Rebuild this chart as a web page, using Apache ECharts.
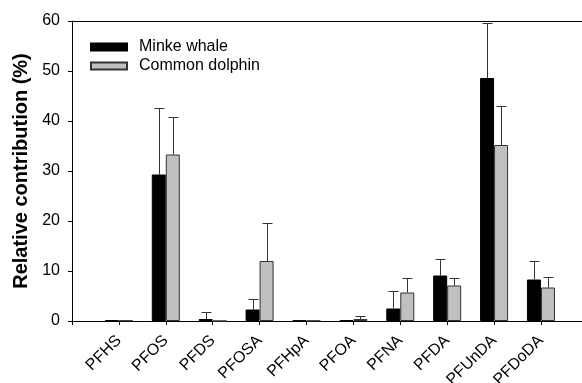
<!DOCTYPE html>
<html>
<head>
<meta charset="utf-8">
<script src="https://cdn.jsdelivr.net/npm/echarts@6/dist/echarts.min.js"></script>
<style>html,body{margin:0;padding:0;background:#fff}#c{width:582px;height:383px}</style>
</head>
<body>
<div id="c"></div>
<script>
const categories = ['PFHS','PFOS','PFDS','PFOSA','PFHpA','PFOA','PFNA','PFDA','PFUnDA','PFDoDA'];
const minkeWhale = [0.2, 29.3, 0.4, 2.3, 0.1, 0.2, 2.5, 9.1, 48.6, 8.3];
const minkeWhaleErr = [0, 13.4, 1.5, 2.2, 0, 0, 3.5, 3.4, 11.0, 3.7];
const commonDolphin = [0.1, 33.3, 0, 12.0, 0.05, 0.4, 5.7, 7.1, 35.2, 6.7];
const commonDolphinErr = [0, 7.5, 0, 7.6, 0, 0.6, 3.0, 1.6, 7.8, 2.2];
const yTicks = [0, 10, 20, 30, 40, 50, 60];

const FONT = "'Liberation Sans', Arial, sans-serif";
const BAR_W = 14;
const slotTicks = [0].concat(categories.map((c, i) => i + 1));
const X_MAX = 10.875;

function errBar(offset) {
  return function (params, api) {
    const x = api.value(0), v = api.value(1), e = api.value(2);
    if (!e) return null;
    const base = api.coord([x, v]);
    const top = api.coord([x, v + e]);
    const cx = Math.round(base[0] + offset) + 0.5;
    const ty = Math.round(top[1]) + 0.5;
    return {
      type: 'group',
      children: [
        { type: 'line', shape: { x1: cx, y1: base[1], x2: cx, y2: ty }, style: { stroke: '#333', lineWidth: 1 } },
        { type: 'line', shape: { x1: cx - 5, y1: ty, x2: cx + 5, y2: ty }, style: { stroke: '#333', lineWidth: 1 } }
      ]
    };
  };
}

const chart = echarts.init(document.getElementById('c'), null, { renderer: 'canvas' });
chart.setOption({
  animation: false,
  textStyle: { fontFamily: FONT },
  grid: { left: 72, top: 21, bottom: 62, right: 0, containLabel: false, outerBoundsMode: 'none', show: false },
  legend: {
    orient: 'vertical', left: 90, top: 39, padding: 0, itemWidth: 36, itemHeight: 7, itemGap: 3,
    icon: 'rect',
    textStyle: { fontFamily: FONT, fontSize: 16, color: '#000', padding: [0, 0, 0, 7] },
    data: ['Minke whale', 'Common dolphin']
  },
  xAxis: [
    {
      type: 'value', min: 0, max: X_MAX, interval: 1,
      axisLine: { show: true, onZero: false, lineStyle: { color: '#000', width: 1 } },
      axisTick: { show: true, length: 4, lineStyle: { color: '#000' }, customValues: slotTicks },
      axisLabel: {
        rotate: 45, margin: 17, fontSize: 16, color: '#000', fontFamily: FONT,
        customValues: slotTicks.slice(1),
        formatter: v => categories[Math.round(v) - 1] || ''
      },
      splitLine: { show: false }
    },
    {
      type: 'value', min: 0, max: X_MAX, position: 'top',
      axisLine: { show: true, onZero: false, lineStyle: { color: '#000', width: 1 } },
      axisTick: { show: false }, axisLabel: { show: false }, splitLine: { show: false }
    }
  ],
  yAxis: {
    type: 'value', min: yTicks[0], max: yTicks[yTicks.length - 1], interval: yTicks[1] - yTicks[0],
    name: 'Relative contribution (%)', nameLocation: 'middle', nameGap: 40,
    nameTextStyle: { fontSize: 20, fontWeight: 'bold', color: '#000', fontFamily: FONT },
    axisLine: { show: true, lineStyle: { color: '#000', width: 1 } },
    axisTick: { show: true, length: 4, lineStyle: { color: '#000' } },
    axisLabel: { margin: 12, fontSize: 16, color: '#000', fontFamily: FONT },
    splitLine: { show: false }
  },
  series: [
    {
      name: 'Minke whale', type: 'bar', barWidth: BAR_W, barGap: '0%',
      data: minkeWhale.map((v, i) => [i + 1, v]),
      itemStyle: { color: '#000', borderColor: '#000', borderWidth: 1 }
    },
    {
      name: 'Common dolphin', type: 'bar', barWidth: BAR_W, barGap: '0%',
      data: commonDolphin.map((v, i) => [i + 1, v]),
      itemStyle: { color: '#c0c0c0', borderColor: '#333', borderWidth: 1 }
    },
    {
      name: 'mwErr', type: 'custom', z: 5, renderItem: errBar(-BAR_W / 2),
      data: minkeWhale.map((v, i) => [i + 1, v, minkeWhaleErr[i]])
    },
    {
      name: 'cdErr', type: 'custom', z: 5, renderItem: errBar(BAR_W / 2),
      data: commonDolphin.map((v, i) => [i + 1, v, commonDolphinErr[i]])
    }
  ]
});
</script>
</body>
</html>
